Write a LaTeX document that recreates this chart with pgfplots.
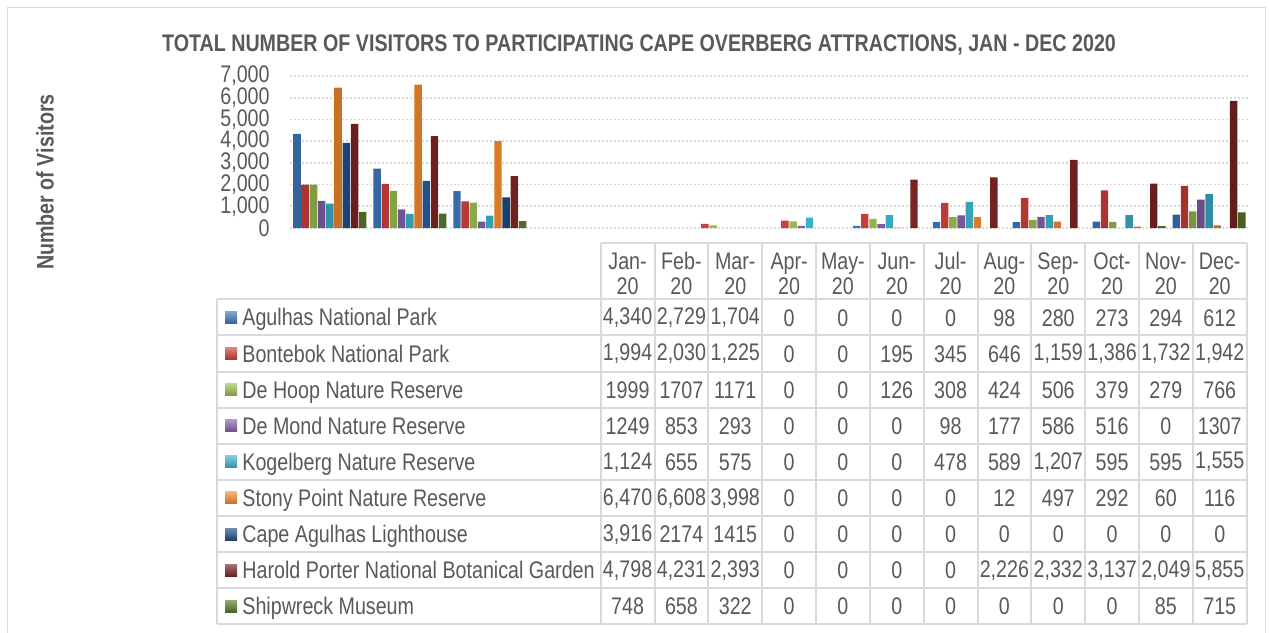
\documentclass[border=0pt]{standalone}
\usepackage{pgfplots}
\pgfplotsset{compat=1.18}
\usepackage{fontspec}
\setmainfont{Liberation Sans}[FakeStretch=0.82]
\definecolor{txt}{HTML}{595959}
\definecolor{gridc}{HTML}{D9D9D9}
\definecolor{cA}{HTML}{3F78C0}
\definecolor{cB}{HTML}{D2403C}
\definecolor{cC}{HTML}{9BBF4F}
\definecolor{cD}{HTML}{8462AC}
\definecolor{cE}{HTML}{3CB4D0}
\definecolor{cF}{HTML}{F58A2A}
\definecolor{cG}{HTML}{24508A}
\definecolor{cH}{HTML}{7E2624}
\definecolor{cI}{HTML}{5E7A2C}
\pgfplotsset{bevel/.style={draw=none, left color=#1!82!black, right color=#1!78!black, middle color=#1}}
\newcommand\tabrow[2]{\foreach \v [count=\j from 0] in {#2}
  \node[text=txt, font=\fontsize{12}{12}\selectfont, inner sep=0pt] at ({627.6+53.83*\j},{317.8+36.11*#1}) {\v};}
\begin{document}
\begin{tikzpicture}[x=0.5pt,y=-0.5pt]
\useasboundingbox (0,0) rectangle (1269,632);
\draw[gridc, line width=0.75pt] (7.5,660) -- (7.5,7.5) -- (1265.5,7.5) -- (1265.5,660);
\node[text=txt, font=\bfseries\fontsize{12}{12}\selectfont] at (639,44.5) {TOTAL NUMBER OF VISITORS TO PARTICIPATING CAPE OVERBERG ATTRACTIONS, JAN - DEC 2020};
\node[text=txt, font=\bfseries\fontsize{12}{12}\selectfont, rotate=90] at (45,182) {Number of Visitors};
\coordinate (axSW) at (290,228);
\begin{axis}[at={(axSW)}, anchor=south west, width=479.5pt, height=76pt, scale only axis,
  ymin=0, ymax=7000, xmin=-0.5, xmax=11.5, ytick={0,1000,...,7000}, xtick=\empty,
  ymajorgrids, grid style={gridc, line width=0.8pt, dash pattern=on 1pt off 1pt},
  axis line style={draw=none}, major tick length=0pt,
  yticklabel style={font=\fontsize{12}{12}\selectfont, text=txt, inner sep=0pt, xshift=-10pt},
  /pgf/number format/1000 sep={,}, /pgf/number format/assume math mode=true,
  ybar=0.4pt, bar width=3.7pt,
  y filter/.expression={y==0 ? nan : y}]
\addplot[bevel=cA] coordinates {(0,4340)(1,2729)(2,1704)(3,0)(4,0)(5,0)(6,0)(7,98)(8,280)(9,273)(10,294)(11,612)};
\addplot[bevel=cB] coordinates {(0,1994)(1,2030)(2,1225)(3,0)(4,0)(5,195)(6,345)(7,646)(8,1159)(9,1386)(10,1732)(11,1942)};
\addplot[bevel=cC] coordinates {(0,1999)(1,1707)(2,1171)(3,0)(4,0)(5,126)(6,308)(7,424)(8,506)(9,379)(10,279)(11,766)};
\addplot[bevel=cD] coordinates {(0,1249)(1,853)(2,293)(3,0)(4,0)(5,0)(6,98)(7,177)(8,586)(9,516)(10,0)(11,1307)};
\addplot[bevel=cE] coordinates {(0,1124)(1,655)(2,575)(3,0)(4,0)(5,0)(6,478)(7,589)(8,1207)(9,595)(10,595)(11,1555)};
\addplot[bevel=cF] coordinates {(0,6470)(1,6608)(2,3998)(3,0)(4,0)(5,0)(6,0)(7,12)(8,497)(9,292)(10,60)(11,116)};
\addplot[bevel=cG] coordinates {(0,3916)(1,2174)(2,1415)(3,0)(4,0)(5,0)(6,0)(7,0)(8,0)(9,0)(10,0)(11,0)};
\addplot[bevel=cH] coordinates {(0,4798)(1,4231)(2,2393)(3,0)(4,0)(5,0)(6,0)(7,2226)(8,2332)(9,3137)(10,2049)(11,5855)};
\addplot[bevel=cI] coordinates {(0,748)(1,658)(2,322)(3,0)(4,0)(5,0)(6,0)(7,0)(8,0)(9,0)(10,85)(11,715)};
\end{axis}
% data table grid
\begin{scope}[draw=gridc, line width=1pt]
\draw (600.7,243) -- (1246.7,243);
\foreach \k in {0,...,9} \draw (216.7,{299.3+36.11*\k}) -- (1246.7,{299.3+36.11*\k});
\draw (216.7,299.3) -- (216.7,624.3);
\foreach \k in {0,...,12} \draw ({600.7+53.83*\k},243) -- ({600.7+53.83*\k},624.3);
\end{scope}
\foreach \m [count=\j from 0] in {Jan,Feb,Mar,Apr,May,Jun,Jul,Aug,Sep,Oct,Nov,Dec}
  \node[text=txt, font=\fontsize{12}{12.5}\selectfont, align=center, inner sep=0pt] at ({627.6+53.83*\j},273.5) {\m-\\20};
\foreach \nm/\c [count=\i from 0] in {Agulhas National Park/cA, Bontebok National Park/cB, De Hoop Nature Reserve/cC, De Mond Nature Reserve/cD, Kogelberg Nature Reserve/cE, Stony Point Nature Reserve/cF, Cape Agulhas Lighthouse/cG, Harold Porter National Botanical Garden/cH, Shipwreck Museum/cI} {
  \shade[top color=\c!65!white, bottom color=\c!80!black] (225,{317.4+36.11*\i-6}) rectangle (237,{317.4+36.11*\i+6});
  \node[text=txt, font=\fontsize{12}{12}\selectfont, anchor=base west, inner sep=0pt] at (242,{317.4+36.11*\i+8.5}) {\nm};
}
\tabrow{0}{{4,340},{2,729},{1,704},0,0,0,0,98,280,273,294,612}
\tabrow{1}{{1,994},{2,030},{1,225},0,0,195,345,646,{1,159},{1,386},{1,732},{1,942}}
\tabrow{2}{1999,1707,1171,0,0,126,308,424,506,379,279,766}
\tabrow{3}{1249,853,293,0,0,0,98,177,586,516,0,1307}
\tabrow{4}{{1,124},655,575,0,0,0,478,589,{1,207},595,595,{1,555}}
\tabrow{5}{{6,470},{6,608},{3,998},0,0,0,0,12,497,292,60,116}
\tabrow{6}{{3,916},2174,1415,0,0,0,0,0,0,0,0,0}
\tabrow{7}{{4,798},{4,231},{2,393},0,0,0,0,{2,226},{2,332},{3,137},{2,049},{5,855}}
\tabrow{8}{748,658,322,0,0,0,0,0,0,0,85,715}
\end{tikzpicture}
\end{document}
